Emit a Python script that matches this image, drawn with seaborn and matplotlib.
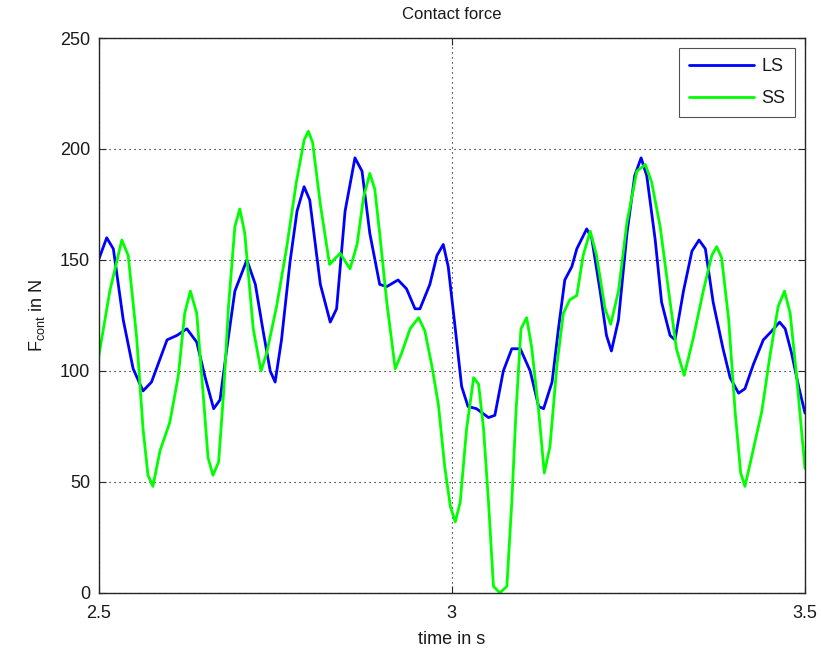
import matplotlib
matplotlib.use("Agg")
import matplotlib.pyplot as plt
import seaborn as sns
import pandas as pd

# ---- data ----
t_ls = [2.500, 2.5116, 2.521, 2.535, 2.549, 2.563, 2.575, 2.597, 2.611, 2.625, 2.639, 2.651,
        2.663, 2.672, 2.682, 2.693, 2.710, 2.722, 2.733, 2.743, 2.750, 2.759, 2.771, 2.781,
        2.791, 2.799, 2.814, 2.828, 2.837, 2.849, 2.863, 2.873, 2.884, 2.898, 2.908, 2.924,
        2.936, 2.948, 2.955, 2.969, 2.979, 2.988, 2.995, 3.005, 3.014, 3.023, 3.035, 3.052,
        3.061, 3.073, 3.085, 3.097, 3.111, 3.123, 3.130, 3.142, 3.151, 3.160, 3.170, 3.177,
        3.191, 3.198, 3.210, 3.219, 3.226, 3.236, 3.248, 3.259, 3.268, 3.276, 3.288, 3.297,
        3.309, 3.316, 3.328, 3.340, 3.350, 3.359, 3.370, 3.384, 3.394, 3.406, 3.415, 3.427,
        3.441, 3.453, 3.464, 3.472, 3.481, 3.491, 3.500]
f_ls = [150, 160, 155, 123, 101, 91, 95, 114, 116, 119, 113, 97,
        83, 87, 111, 136, 150, 139, 118, 100, 95, 114, 149, 172,
        183, 177, 139, 122, 128, 172, 196, 190, 162, 139, 138, 141,
        137, 128, 128, 139, 152, 157, 147, 119, 93, 84, 83, 79,
        80, 100, 110, 110, 100, 84, 83, 95, 119, 141, 147, 155,
        164, 160, 136, 116, 109, 123, 162, 188, 196, 188, 159, 131,
        116, 114, 136, 154, 159, 155, 131, 110, 97, 90, 92, 103,
        114, 118, 122, 119, 108, 93, 81]

t_ss = [2.500, 2.516, 2.533, 2.542, 2.554, 2.563, 2.570, 2.577, 2.587, 2.601, 2.613, 2.622,
        2.630, 2.639, 2.648, 2.655, 2.662, 2.670, 2.677, 2.684, 2.693, 2.700, 2.707, 2.719,
        2.730, 2.738, 2.752, 2.766, 2.780, 2.791, 2.797, 2.803, 2.814, 2.827, 2.842, 2.856,
        2.866, 2.875, 2.884, 2.891, 2.898, 2.908, 2.920, 2.929, 2.941, 2.953, 2.962, 2.972,
        2.981, 2.990, 2.998, 3.005, 3.012, 3.021, 3.031, 3.038, 3.045, 3.052, 3.059, 3.068,
        3.078, 3.085, 3.091, 3.098, 3.106, 3.113, 3.123, 3.131, 3.139, 3.149, 3.158, 3.167,
        3.177, 3.186, 3.196, 3.205, 3.217, 3.225, 3.236, 3.248, 3.262, 3.274, 3.283, 3.295,
        3.307, 3.318, 3.329, 3.342, 3.356, 3.368, 3.375, 3.382, 3.392, 3.401, 3.409, 3.415,
        3.425, 3.439, 3.450, 3.462, 3.471, 3.479, 3.488, 3.500]
f_ss = [106, 136, 159, 152, 115, 74, 53, 48, 64, 77, 98, 126,
        136, 126, 90, 61, 53, 59, 90, 129, 165, 173, 162, 119,
        100, 108, 129, 155, 185, 204, 208, 203, 175, 148, 153, 146,
        157, 178, 189, 182, 162, 131, 101, 108, 119, 124, 118, 102,
        85, 57, 39, 32, 41, 74, 97, 94, 74, 41, 3, 0,
        3, 41, 82, 119, 124, 111, 82, 54, 66, 103, 126, 132,
        134, 152, 163, 152, 128, 121, 136, 167, 190, 193, 185, 165,
        136, 110, 98, 115, 136, 152, 156, 151, 123, 82, 54, 48,
        62, 82, 106, 129, 136, 126, 98, 56]

series_names = ["LS", "SS"]
series_colors = ["#0000FF", "#00FF00"]
x_ticks = [2.5, 3.0, 3.5]
x_tick_labels = ["2.5", "3", "3.5"]
y_ticks = [0, 50, 100, 150, 200, 250]

df = pd.concat([
    pd.DataFrame({"t": t_ls, "F": f_ls, "series": "LS"}),
    pd.DataFrame({"t": t_ss, "F": f_ss, "series": "SS"}),
], ignore_index=True)

sns.set_theme(style="white")
plt.rcParams["font.family"] = ["Liberation Sans", "DejaVu Sans"]

fig = plt.figure(figsize=(8.21, 6.53), dpi=100)
ax = fig.add_axes([0.12, 0.092, 0.8605, 0.8498])

sns.lineplot(data=df, x="t", y="F", hue="series", hue_order=series_names,
             palette=dict(zip(series_names, series_colors)), sort=False,
             estimator=None, linewidth=2.0, ax=ax)

ax.set_xlim(2.5, 3.5)
ax.set_ylim(0, 250)
ax.set_xticks(x_ticks)
ax.set_xticklabels(x_tick_labels)
ax.set_yticks(y_ticks)

ax.grid(True, color="black", linestyle=(0, (1, 3.5)), linewidth=0.8)
ax.set_axisbelow(True)

for s in ax.spines.values():
    s.set_visible(True)
    s.set_color("#262626")
    s.set_linewidth(1.0)

ax.tick_params(direction="in", length=5, width=0.8, colors="#262626",
               labelcolor="#1a1a1a", labelsize=13, top=True, right=True,
               bottom=True, left=True)
ax.tick_params(axis="x", pad=9)
ax.tick_params(axis="y", pad=6)

ax.set_title("Contact force", fontsize=12, color="#1a1a1a", pad=14)
ax.set_xlabel("time in s", fontsize=13, color="#1a1a1a", labelpad=6)
ax.set_ylabel(r"F$_{\mathregular{cont}}$ in N", fontsize=13, color="#1a1a1a", labelpad=9)

leg = ax.legend(loc="upper right", fontsize=13, frameon=True, fancybox=False,
                edgecolor="#262626", handlelength=3.6, borderpad=0.55,
                labelspacing=0.85, handletextpad=0.4, borderaxespad=0.55)
leg.get_frame().set_linewidth(0.8)
for txt in leg.get_texts():
    txt.set_color("#1a1a1a")

fig.savefig("out.png", dpi=100, facecolor="white")
